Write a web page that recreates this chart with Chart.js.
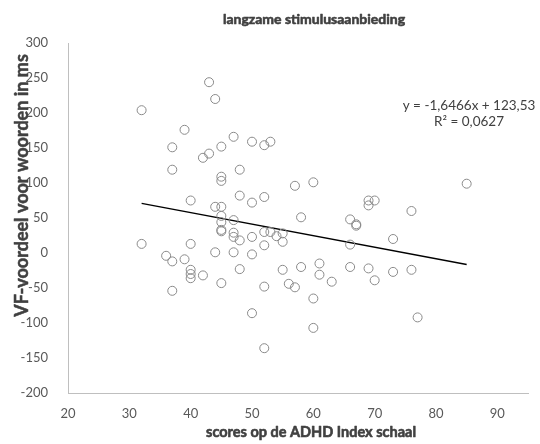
<!DOCTYPE html>
<html>
<head>
<meta charset="utf-8">
<script src="https://cdn.jsdelivr.net/npm/chart.js@4/dist/chart.umd.min.js"></script>
<style>
    body { margin: 0; background: #fff; }
    canvas { display: block; }
</style>
</head>
<body>
<canvas id="scatterChart" width="540" height="444"></canvas>
<script>
// ==============================
// DATA
// ==============================
const adhdScores = [43, 44, 32, 39, 37, 47, 50, 52, 53, 45, 43, 42, 37, 48, 45, 45, 48, 50, 52, 40,
    44, 45, 45, 47, 45, 45, 45, 47, 47, 48, 50, 52, 52, 32, 40, 44, 47, 50, 36, 37,
    39, 48, 40, 40, 40, 42, 45, 37, 52, 50, 52, 57, 60, 58, 66, 69, 70, 69, 76, 85,
    67, 67, 53, 54, 55, 55, 66, 73, 55, 58, 61, 61, 63, 66, 69, 70, 73, 76, 56, 57,
    60, 60, 77];

const vfAdvantage = [244, 220, 204, 176, 151, 166, 159, 154, 159, 152, 142, 136, 119, 119, 109, 103, 82, 72, 80, 75,
    66, 66, 53, 47, 44, 33, 31, 29, 23, 18, 23, 30, 11, 13, 13, 1, 1, -2, -4, -12,
    -9, -23, -24, -30, -36, -32, -43, -54, -48, -86, -136, 96, 101, 51, 48, 75, 75, 68, 60, 99,
    41, 39, 30, 24, 28, 16, 12, 20, -24, -20, -15, -31, -41, -20, -22, -39, -27, -24, -44, -49,
    -65, -107, -92];

const xTicks = [20, 30, 40, 50, 60, 70, 80, 90];
const yTicks = [-200, -150, -100, -50, 0, 50, 100, 150, 200, 250, 300];

// trendline from the equation shown in the chart
const trendSlope = -1.6466;
const trendIntercept = 123.53;
const trendLabel = "y = -1,6466x + 123,53";
const r2Label = "R\u00B2 = 0,0627";

const chartTitle = "langzame stimulusaanbieding";
const xTitle = "scores op de ADHD Index schaal";
const yTitle = "VF-voordeel voor woorden in ms";

// ==============================
// BUILD
// ==============================
const points = adhdScores.map((x, i) => ({ x: x, y: vfAdvantage[i] }));
const minX = Math.min(...adhdScores);
const maxX = Math.max(...adhdScores);
const trendPoints = [minX, maxX].map(x => ({ x: x, y: trendSlope * x + trendIntercept }));

const FONT = "Lato, 'Open Sans', sans-serif";

// bold Lato is not available here, so thicken the glyphs with a thin stroke
function boldText(ctx, text, x, y, stroke) {
    ctx.lineWidth = stroke;
    ctx.lineJoin = "round";
    ctx.strokeStyle = ctx.fillStyle;
    ctx.strokeText(text, x, y);
    ctx.fillText(text, x, y);
}

// titles + equation drawn as text on top
const textPlugin = {
    id: "excelText",
    afterDraw(chart) {
        const ctx = chart.ctx;
        ctx.save();
        ctx.textAlign = "center";
        ctx.textBaseline = "middle";
        ctx.fillStyle = "#404040";

        ctx.font = "bold 14px " + FONT;
        boldText(ctx, chartTitle, 314, 19, 0.6);

        ctx.font = "bold 14.5px " + FONT;
        boldText(ctx, xTitle, 311, 432, 0.6);

        ctx.save();
        ctx.translate(28, 185.5);
        ctx.rotate(-Math.PI / 2);
        ctx.textBaseline = "alphabetic";
        ctx.font = "bold 18px " + FONT;
        boldText(ctx, yTitle, 0, 0, 0.5);
        ctx.restore();

        ctx.font = "13.5px " + FONT;
        ctx.fillText(trendLabel, 469, 106);
        ctx.fillText(r2Label, 469, 122);
        ctx.restore();
    }
};

const ctx = document.getElementById("scatterChart").getContext("2d");

new Chart(ctx, {
    type: "scatter",
    data: {
        datasets: [
            {
                label: "scores",
                data: points,
                pointStyle: "circle",
                pointRadius: 4.5,
                pointHoverRadius: 4.5,
                borderColor: "#8a8a8a",
                backgroundColor: "rgba(0,0,0,0)",
                borderWidth: 1
            },
            {
                type: "line",
                label: "trend",
                data: trendPoints,
                borderColor: "#000000",
                borderWidth: 1.3,
                pointRadius: 0,
                fill: false
            }
        ]
    },
    options: {
        responsive: false,
        animation: false,
        layout: { padding: { top: 43, right: 12, bottom: 0, left: 0 } },
        plugins: {
            legend: { display: false },
            tooltip: { enabled: false },
            title: { display: false }
        },
        scales: {
            x: {
                type: "linear",
                min: 20,
                max: 95,
                afterBuildTicks: scale => { scale.ticks = xTicks.map(v => ({ value: v })); },
                afterFit: scale => { scale.height = 51; },
                grid: { display: false },
                border: { display: true, color: "#bfbfbf", width: 1 },
                ticks: {
                    color: "#595959",
                    font: { family: FONT, size: 13 },
                    padding: 5,
                    maxRotation: 0
                }
            },
            y: {
                type: "linear",
                min: -200,
                max: 300,
                afterBuildTicks: scale => { scale.ticks = yTicks.map(v => ({ value: v })); },
                afterFit: scale => { scale.width = 68; },
                grid: { display: false },
                border: { display: true, color: "#bfbfbf", width: 1 },
                ticks: {
                    color: "#595959",
                    font: { family: FONT, size: 13 },
                    padding: 12
                }
            }
        }
    },
    plugins: [textPlugin]
});
</script>
</body>
</html>
